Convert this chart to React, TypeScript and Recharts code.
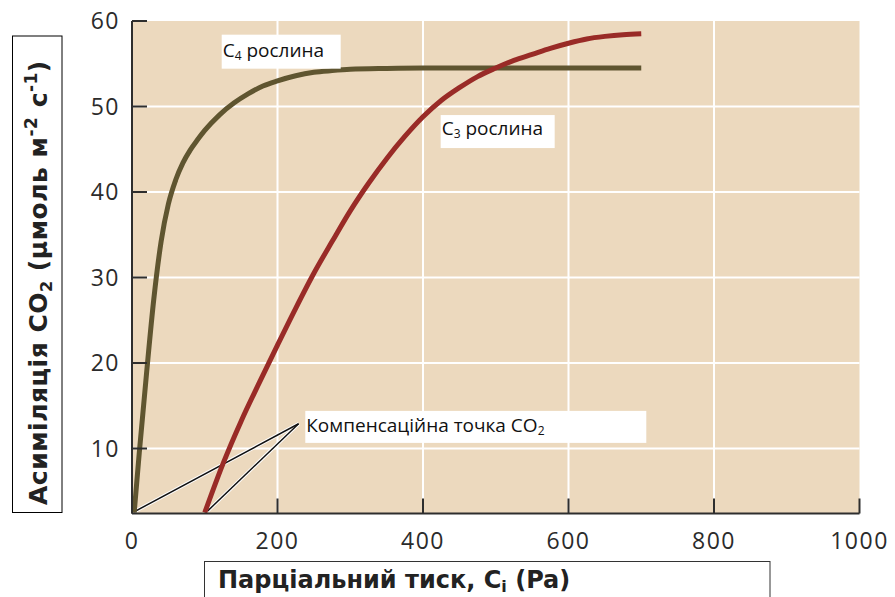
import React from 'react';
import { LineChart, Line, XAxis, YAxis, CartesianGrid, ReferenceDot } from 'recharts';

// C4 plant curve (Pa, µmol m-2 s-1)
const c4Pressure = [3, 10, 20, 30, 40, 50, 60, 70, 80, 90, 100, 120, 140, 160, 180, 200, 225, 250, 275, 300, 350, 400, 500, 600, 700];
const c4Assimilation = [2.5, 9.5, 18.8, 27.5, 34.2, 38.6, 41.4, 43.4, 44.9, 46.1, 47.2, 49, 50.4, 51.5, 52.4, 53, 53.6, 54, 54.2, 54.35, 54.45, 54.5, 54.5, 54.5, 54.5];

// C3 plant curve
const c3Pressure = [100, 125, 150, 175, 200, 225, 250, 275, 300, 325, 350, 375, 400, 425, 450, 475, 500, 525, 550, 575, 600, 625, 650, 675, 700];
const c3Assimilation = [2.5, 8.2, 13.2, 17.7, 22.1, 26.4, 30.5, 34.2, 37.8, 41, 43.9, 46.5, 48.8, 50.7, 52.2, 53.5, 54.5, 55.4, 56.1, 56.8, 57.4, 57.9, 58.2, 58.4, 58.5];

// pointer lines to the compensation points
const compPressureA = [3, 229];
const compAssimA = [2.6, 12.9];
const compPressureB = [104, 229];
const compAssimB = [2.7, 12.9];

const xTicks = [0, 200, 400, 600, 800, 1000];
const yTicks = [10, 20, 30, 40, 50, 60];
const xGrid = [200, 400, 600, 800];
const yGrid = [10, 20, 30, 40, 50];

const toPoints = (xs: number[], ys: number[]) => xs.map((x, i) => ({ x, y: ys[i] }));

const c4Data = toPoints(c4Pressure, c4Assimilation);
const c3Data = toPoints(c3Pressure, c3Assimilation);
const compA = toPoints(compPressureA, compAssimA);
const compB = toPoints(compPressureB, compAssimB);

const AXIS = '#2e2e2e';
const TICK_FONT = { fontFamily: 'Open Sans', fontSize: 23, fill: '#2b2b2b', letterSpacing: 1.5 };
const NOTE_FONT = { fontFamily: 'Open Sans', fontSize: 19, fill: '#111' };

const YTick = (props: any) => {
  const { x, y, payload } = props;
  return (
    <g>
      <line x1={x} x2={x + 15} y1={y} y2={y} stroke={AXIS} strokeWidth={2} />
      <text x={x - 12} y={y + 8} textAnchor="end" {...TICK_FONT}>{payload.value}</text>
    </g>
  );
};

const XTick = (props: any) => {
  const { x, y, payload } = props;
  return (
    <g>
      <line x1={x} x2={x} y1={y} y2={y - 15} stroke={AXIS} strokeWidth={2} />
      <text x={x} y={y + 35} textAnchor="middle" {...TICK_FONT}>{payload.value}</text>
    </g>
  );
};

const noteBox = (w: number, h: number, base: number, content: React.ReactNode) => (p: any) => (
  <g>
    <rect x={p.cx} y={p.cy} width={w} height={h} fill="#fff" />
    <text x={p.cx + 1} y={p.cy + base} {...NOTE_FONT}>{content}</text>
  </g>
);

export default function App() {
  return (
    <div style={{ position: 'absolute', left: 0, top: 0, width: 895, height: 597, background: '#fff' }}>
      <svg width={895} height={597} style={{ position: 'absolute', left: 0, top: 0 }}>
        <rect x={12.5} y={36} width={49.5} height={476.5} fill="#fff" stroke="#000" strokeWidth={1} />
        <text
          transform="translate(46.5, 505) rotate(-90)"
          fontFamily="DejaVu Sans"
          fontWeight="bold"
          fontSize={25}
          letterSpacing={0.5}
          fill="#222"
        >
          Асиміляція CO<tspan fontSize={16} dy={5}>2</tspan>
          <tspan dy={-5}> (μмоль м</tspan>
          <tspan fontSize={17} dy={-10}>-2</tspan>
          <tspan dy={10}> с</tspan>
          <tspan fontSize={17} dy={-10}>-1</tspan>
          <tspan dy={10}>)</tspan>
        </text>
        <rect x={204.5} y={561.5} width={565.5} height={60} fill="#fff" stroke="#333" strokeWidth={1} />
        <text x={218} y={588} fontFamily="DejaVu Sans" fontWeight="bold" fontSize={24} fill="#222">
          Парціальний тиск, C<tspan fontSize={16} dy={4}>i</tspan>
          <tspan dy={-4}> (Pa)</tspan>
        </text>
      </svg>
      <div style={{ position: 'absolute', left: 0, top: 0 }}>
        <LineChart width={895} height={597} data={c4Data} margin={{ top: 21, right: 35.5, bottom: 53.5, left: 72 }}>
          <CartesianGrid
            fill="#ecd9be"
            stroke="#ffffff"
            strokeWidth={2}
            horizontalValues={yGrid}
            verticalValues={xGrid}
          />
          <XAxis
            type="number"
            dataKey="x"
            domain={[0, 1000]}
            ticks={xTicks}
            allowDataOverflow
            height={30}
            tickSize={0}
            tickMargin={0}
            tickLine={false}
            axisLine={{ stroke: AXIS, strokeWidth: 2 }}
            tick={<XTick />}
          />
          <YAxis
            type="number"
            dataKey="y"
            domain={[2.4, 60]}
            ticks={yTicks}
            allowDataOverflow
            width={60}
            tickSize={0}
            tickMargin={0}
            tickLine={false}
            axisLine={{ stroke: AXIS, strokeWidth: 2 }}
            tick={<YTick />}
          />
          <Line data={compA} dataKey="y" type="linear" stroke="#fff" strokeWidth={3.5} dot={false} isAnimationActive={false} />
          <Line data={compB} dataKey="y" type="linear" stroke="#fff" strokeWidth={3.5} dot={false} isAnimationActive={false} />
          <Line data={compA} dataKey="y" type="linear" stroke="#111" strokeWidth={1.5} dot={false} isAnimationActive={false} />
          <Line data={compB} dataKey="y" type="linear" stroke="#111" strokeWidth={1.5} dot={false} isAnimationActive={false} />
          <Line data={c4Data} dataKey="y" type="monotone" stroke="#5f5530" strokeWidth={5} dot={false} isAnimationActive={false} />
          <Line data={c3Data} dataKey="y" type="monotone" stroke="#992b27" strokeWidth={5} dot={false} isAnimationActive={false} />
          <ReferenceDot
            x={123.3}
            y={58.4}
            shape={noteBox(119, 34, 22, <>C<tspan fontSize={12} dy={3}>4</tspan><tspan dy={-3}> рослина</tspan></>)}
          />
          <ReferenceDot
            x={424.3}
            y={49.0}
            shape={noteBox(114, 33, 20, <>C<tspan fontSize={12} dy={3}>3</tspan><tspan dy={-3}> рослина</tspan></>)}
          />
          <ReferenceDot
            x={238.2}
            y={14.4}
            shape={noteBox(341, 32, 21.5, <>Компенсаційна точка CO<tspan fontSize={12} dy={3}>2</tspan></>)}
          />
        </LineChart>
      </div>
    </div>
  );
}
